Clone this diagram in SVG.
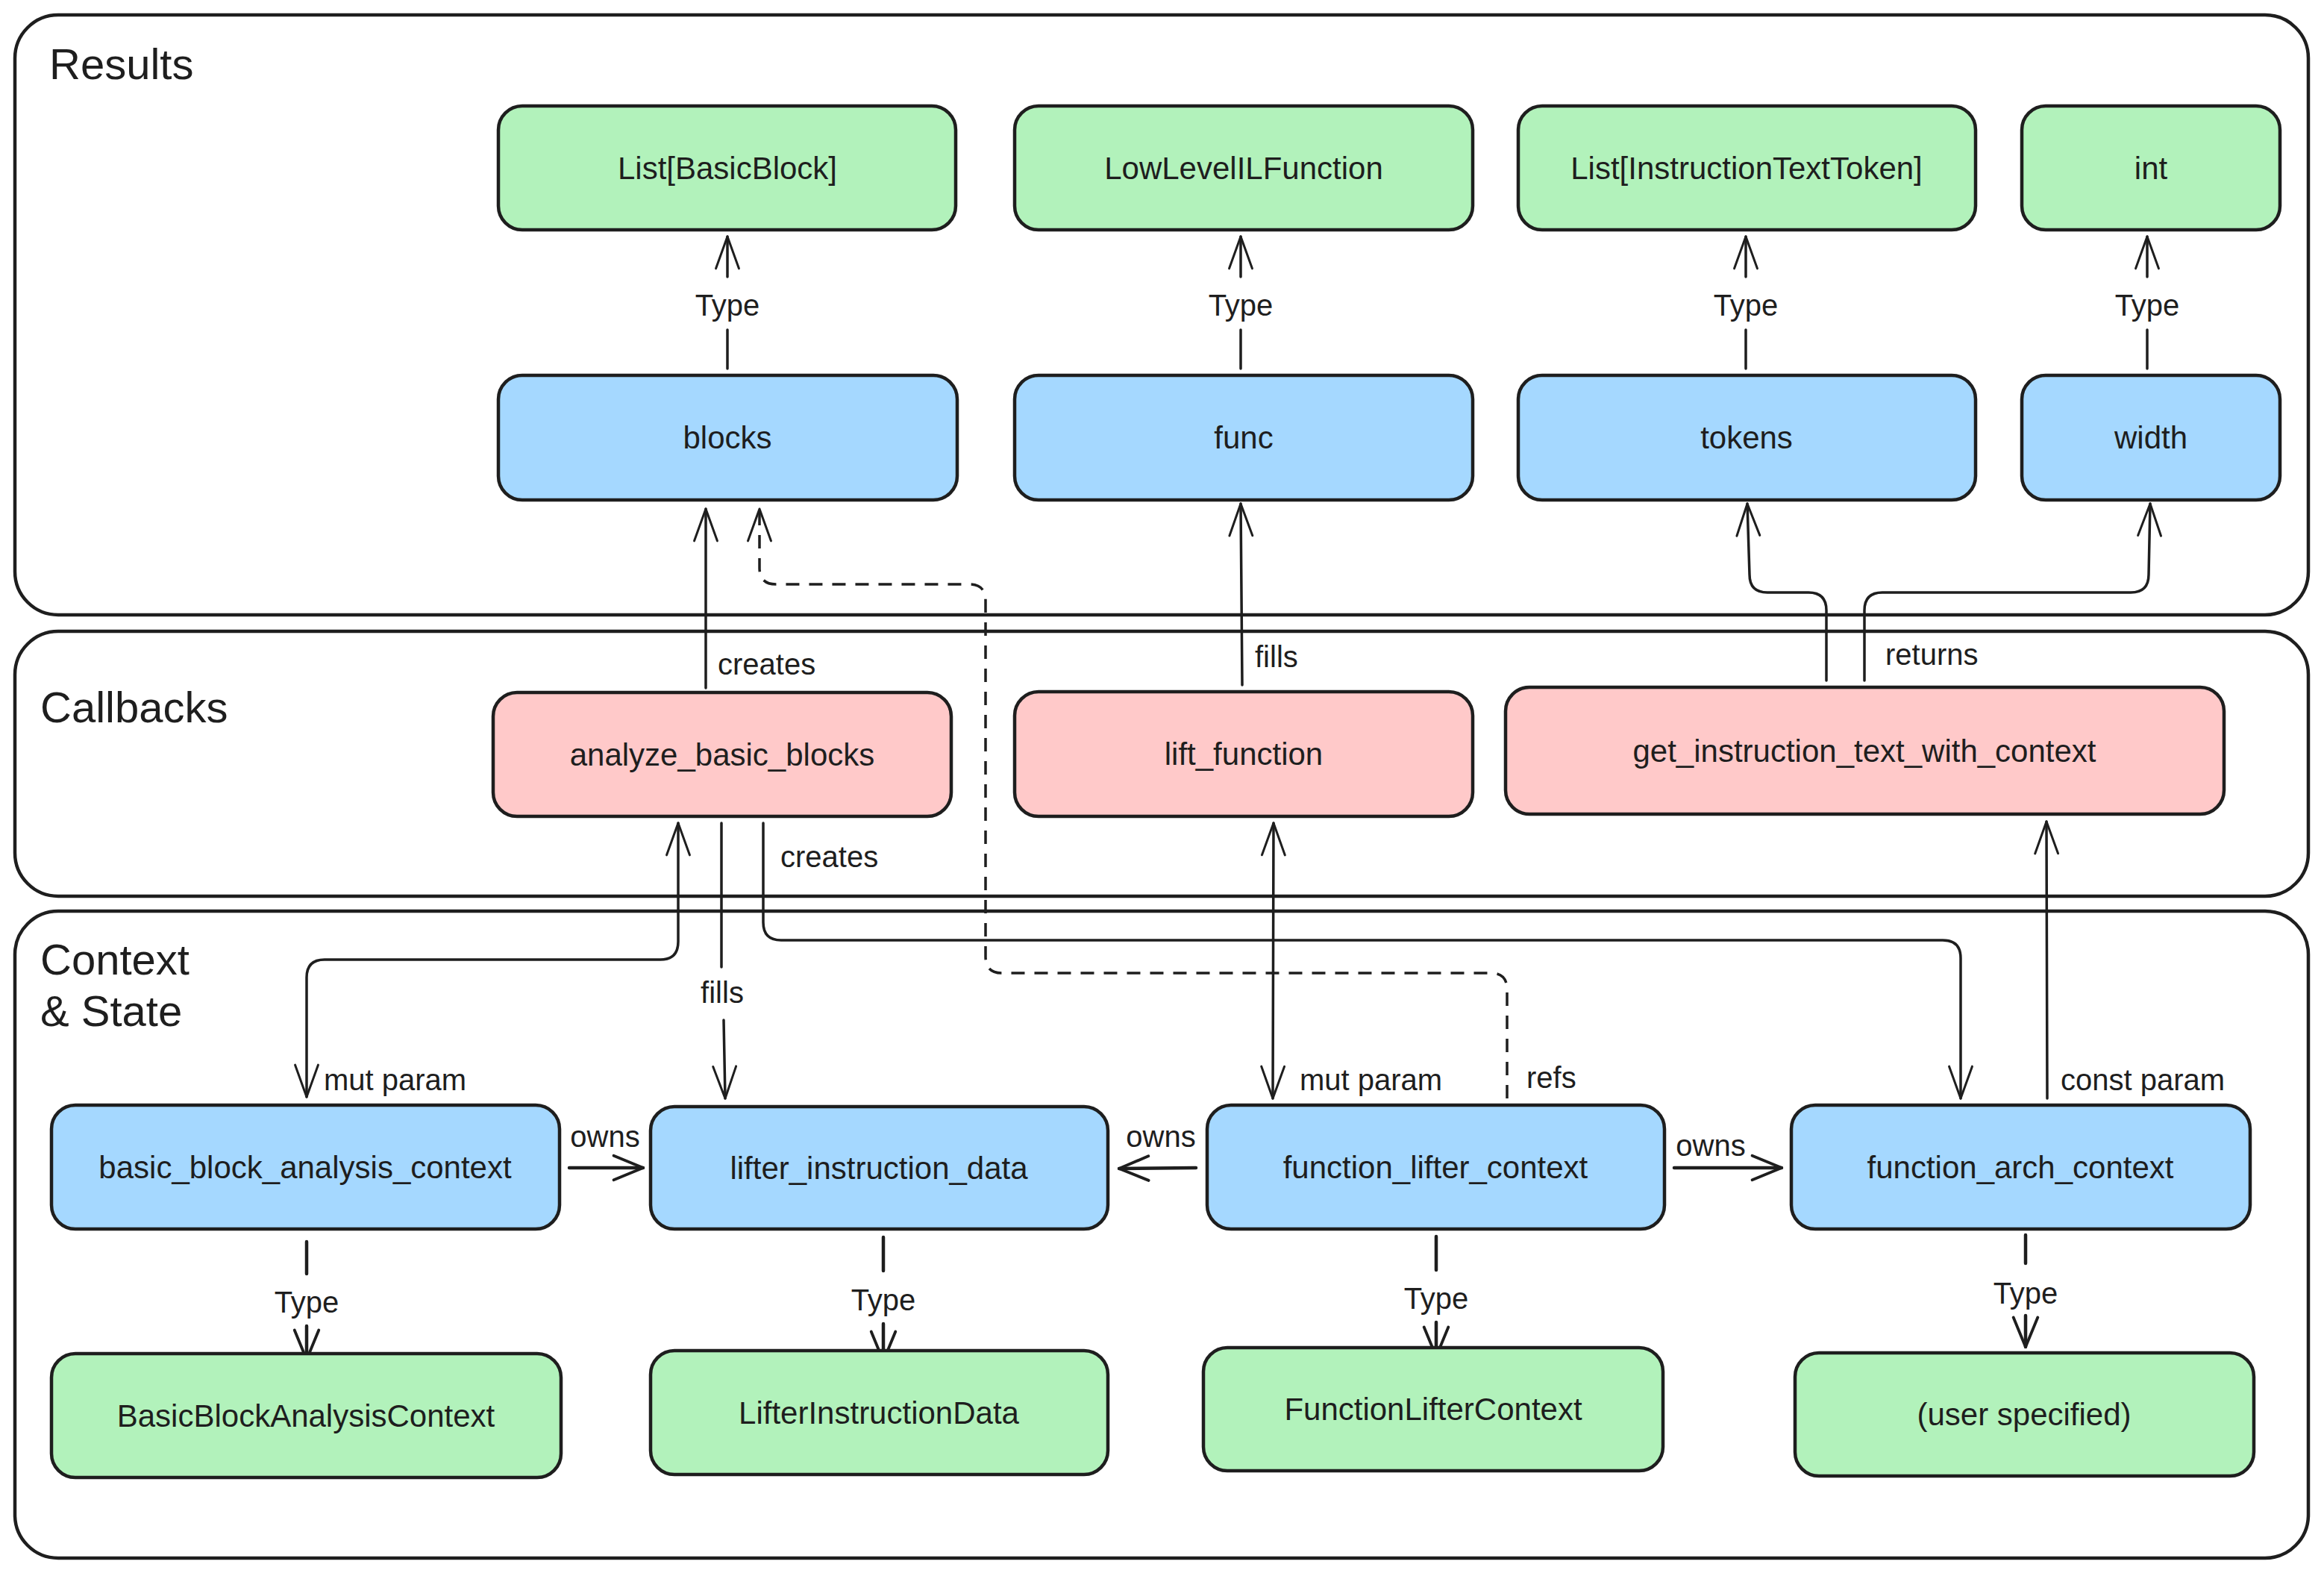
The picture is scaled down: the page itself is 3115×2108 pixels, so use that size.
<svg xmlns="http://www.w3.org/2000/svg" width="3115" height="2108" viewBox="0 0 3115 2108">
<style>
.container{fill:none;stroke:#1e1e1e;stroke-width:4.5}
.ctitle{font-family:"Liberation Sans",Arial,sans-serif;font-size:58px;fill:#1e1e1e}
.node rect{stroke:#1e1e1e;stroke-width:4.5}
.green rect{fill:#b2f2bb}
.blue rect{fill:#a5d8ff}
.pink rect{fill:#ffc9c9}
.node text{font-family:"Liberation Sans",Arial,sans-serif;font-size:42px;fill:#1e1e1e;text-anchor:middle;dominant-baseline:central}
.edge{fill:none;stroke:#1e1e1e;stroke-width:3.5;stroke-linecap:round;stroke-linejoin:round}
.thick{stroke-width:4.5}
.dash{stroke-dasharray:18 13;stroke-linecap:butt}
.lbl{font-family:"Liberation Sans",Arial,sans-serif;font-size:40px;fill:#1e1e1e;dominant-baseline:central}
.mid{text-anchor:middle}
</style>
<defs>
<marker id="ah" markerUnits="userSpaceOnUse" markerWidth="60" markerHeight="60" refX="0" refY="0" viewBox="-60 -30 70 60" orient="auto-start-reverse" overflow="visible">
<path d="M-50,-18 L0,0 L-50,18" fill="none" stroke="#1e1e1e" stroke-width="3.5" stroke-linecap="round" stroke-linejoin="round"/>
</marker>
<marker id="ah2" markerUnits="userSpaceOnUse" markerWidth="60" markerHeight="60" refX="0" refY="0" viewBox="-60 -30 70 60" orient="auto-start-reverse" overflow="visible">
<path d="M-46,-19 L0,0 L-46,19" fill="none" stroke="#1e1e1e" stroke-width="4.5" stroke-linecap="round" stroke-linejoin="round"/>
</marker>
</defs>
<rect x="0" y="0" width="3115" height="2108" fill="#ffffff"/>

<g id="containers">
<g id="results-group">
<rect class="container" x="20" y="20" width="3074" height="804" rx="58"/>
<text class="ctitle" x="66" y="106">Results</text>
</g>
<g id="callbacks-group">
<rect class="container" x="20" y="846" width="3074" height="355" rx="58"/>
<text class="ctitle" x="54" y="968">Callbacks</text>
</g>
<g id="context-group">
<rect class="container" x="20" y="1221" width="3074" height="867" rx="58"/>
<text class="ctitle" x="54" y="1306">Context</text>
<text class="ctitle" x="54" y="1375">&amp; State</text>
</g>
</g>

<g id="connectors">
<path class="edge" marker-end="url(#ah)" d="M975,494 L975,442 M975,371 L975,317"/>
<path class="edge" marker-end="url(#ah)" d="M1663,494 L1663,442 M1663,371 L1663,317"/>
<path class="edge" marker-end="url(#ah)" d="M2340,494 L2340,442 M2340,371 L2340,317"/>
<path class="edge" marker-end="url(#ah)" d="M2878,494 L2878,442 M2878,371 L2878,317"/>
<path class="edge" marker-end="url(#ah)" d="M946,922 L946,682"/>
<path class="edge dash" marker-end="url(#ah)" d="M2020,1472 L2020,1326 Q2020,1304 1998,1304 L1343,1304 Q1321,1304 1321,1282 L1321,805 Q1321,783 1299,783 L1040,783 Q1018,783 1018,761 L1018,682"/>
<path class="edge" marker-end="url(#ah)" d="M1665,918 L1663,675"/>
<path class="edge" marker-end="url(#ah)" d="M2448,912 L2448,818 Q2448,794 2424,794 L2369,794 Q2345,794 2345,770 L2342,675"/>
<path class="edge" marker-end="url(#ah)" d="M2499,912 L2499,818 Q2499,794 2523,794 L2856,794 Q2880,794 2880,770 L2882,675"/>
<path class="edge" marker-end="url(#ah)" d="M1023,1103 L1023,1236 Q1023,1260 1047,1260 L2604,1260 Q2628,1260 2628,1284 L2628,1472"/>
<path class="edge" marker-start="url(#ah)" marker-end="url(#ah)" d="M909,1103 L909,1262 Q909,1286 885,1286 L435,1286 Q411,1286 411,1310 L411,1470"/>
<path class="edge" marker-end="url(#ah)" d="M967,1103 L967,1296 M970,1367 L972,1472"/>
<path class="edge" marker-start="url(#ah)" marker-end="url(#ah)" d="M1707,1103 L1706,1472"/>
<path class="edge" marker-end="url(#ah)" d="M2744,1472 L2743,1101"/>
<path class="edge thick" marker-end="url(#ah2)" d="M763,1565 L862,1565"/>
<path class="edge thick" marker-end="url(#ah2)" d="M1603,1565 L1500,1566"/>
<path class="edge thick" marker-end="url(#ah2)" d="M2244,1565 L2388,1565"/>
<path class="edge thick" marker-end="url(#ah2)" d="M411,1664 L411,1707 M411,1777 L411,1822"/>
<path class="edge thick" marker-end="url(#ah2)" d="M1184,1658 L1184,1703 M1184,1774 L1184,1824"/>
<path class="edge thick" marker-end="url(#ah2)" d="M1925,1657 L1925,1702 M1925,1772 L1925,1818"/>
<path class="edge thick" marker-end="url(#ah2)" d="M2715,1655 L2715,1693 M2715,1763 L2715,1805"/>

<g id="edge-labels">
<text class="lbl mid" x="975" y="409">Type</text>
<text class="lbl mid" x="1663" y="409">Type</text>
<text class="lbl mid" x="2340" y="409">Type</text>
<text class="lbl mid" x="2878" y="409">Type</text>
<text class="lbl" x="962" y="890">creates</text>
<text class="lbl" x="1682" y="880">fills</text>
<text class="lbl" x="2527" y="877">returns</text>
<text class="lbl" x="1046" y="1148">creates</text>
<text class="lbl mid" x="968" y="1330">fills</text>
<text class="lbl" x="434" y="1447">mut param</text>
<text class="lbl" x="1742" y="1447">mut param</text>
<text class="lbl" x="2046" y="1444">refs</text>
<text class="lbl" x="2762" y="1447">const param</text>
<text class="lbl mid" x="811" y="1523">owns</text>
<text class="lbl mid" x="1556" y="1523">owns</text>
<text class="lbl mid" x="2293" y="1535">owns</text>
<text class="lbl mid" x="411" y="1745">Type</text>
<text class="lbl mid" x="1184" y="1742">Type</text>
<text class="lbl mid" x="1925" y="1740">Type</text>
<text class="lbl mid" x="2715" y="1733">Type</text>
</g>
</g>

<g id="node-list-basicblock" class="node green"><rect x="668" y="142" width="613" height="166" rx="32"/><text x="975" y="225">List[BasicBlock]</text></g>
<g id="node-lowlevelilfunction" class="node green"><rect x="1360" y="142" width="614" height="166" rx="32"/><text x="1667" y="225">LowLevelILFunction</text></g>
<g id="node-list-instructiontexttoken" class="node green"><rect x="2035" y="142" width="613" height="166" rx="32"/><text x="2341" y="225">List[InstructionTextToken]</text></g>
<g id="node-int" class="node green"><rect x="2710" y="142" width="346" height="166" rx="32"/><text x="2883" y="225">int</text></g>

<g id="node-blocks" class="node blue"><rect x="668" y="503" width="615" height="167" rx="32"/><text x="975" y="586">blocks</text></g>
<g id="node-func" class="node blue"><rect x="1360" y="503" width="614" height="167" rx="32"/><text x="1667" y="586">func</text></g>
<g id="node-tokens" class="node blue"><rect x="2035" y="503" width="613" height="167" rx="32"/><text x="2341" y="586">tokens</text></g>
<g id="node-width" class="node blue"><rect x="2710" y="503" width="346" height="167" rx="32"/><text x="2883" y="586">width</text></g>

<g id="node-analyze-basic-blocks" class="node pink"><rect x="661" y="928" width="614" height="166" rx="32"/><text x="968" y="1011">analyze_basic_blocks</text></g>
<g id="node-lift-function" class="node pink"><rect x="1360" y="927" width="614" height="167" rx="32"/><text x="1667" y="1010">lift_function</text></g>
<g id="node-get-instruction-text-with-context" class="node pink"><rect x="2018" y="921" width="963" height="170" rx="32"/><text x="2499" y="1006">get_instruction_text_with_context</text></g>

<g id="node-basic-block-analysis-context" class="node blue"><rect x="69" y="1481" width="681" height="166" rx="32"/><text x="409" y="1564">basic_block_analysis_context</text></g>
<g id="node-lifter-instruction-data" class="node blue"><rect x="872" y="1483" width="613" height="164" rx="32"/><text x="1178" y="1565">lifter_instruction_data</text></g>
<g id="node-function-lifter-context" class="node blue"><rect x="1618" y="1481" width="613" height="166" rx="32"/><text x="1924" y="1564">function_lifter_context</text></g>
<g id="node-function-arch-context" class="node blue"><rect x="2401" y="1481" width="615" height="166" rx="32"/><text x="2708" y="1564">function_arch_context</text></g>

<g id="node-basicblockanalysiscontext" class="node green"><rect x="69" y="1814" width="683" height="166" rx="32"/><text x="410" y="1897">BasicBlockAnalysisContext</text></g>
<g id="node-lifterinstructiondata" class="node green"><rect x="872" y="1810" width="613" height="166" rx="32"/><text x="1178" y="1893">LifterInstructionData</text></g>
<g id="node-functionliftercontext" class="node green"><rect x="1613" y="1806" width="616" height="165" rx="32"/><text x="1921" y="1888">FunctionLifterContext</text></g>
<g id="node-user-specified" class="node green"><rect x="2406" y="1813" width="615" height="165" rx="32"/><text x="2713" y="1895">(user specified)</text></g>
</svg>
